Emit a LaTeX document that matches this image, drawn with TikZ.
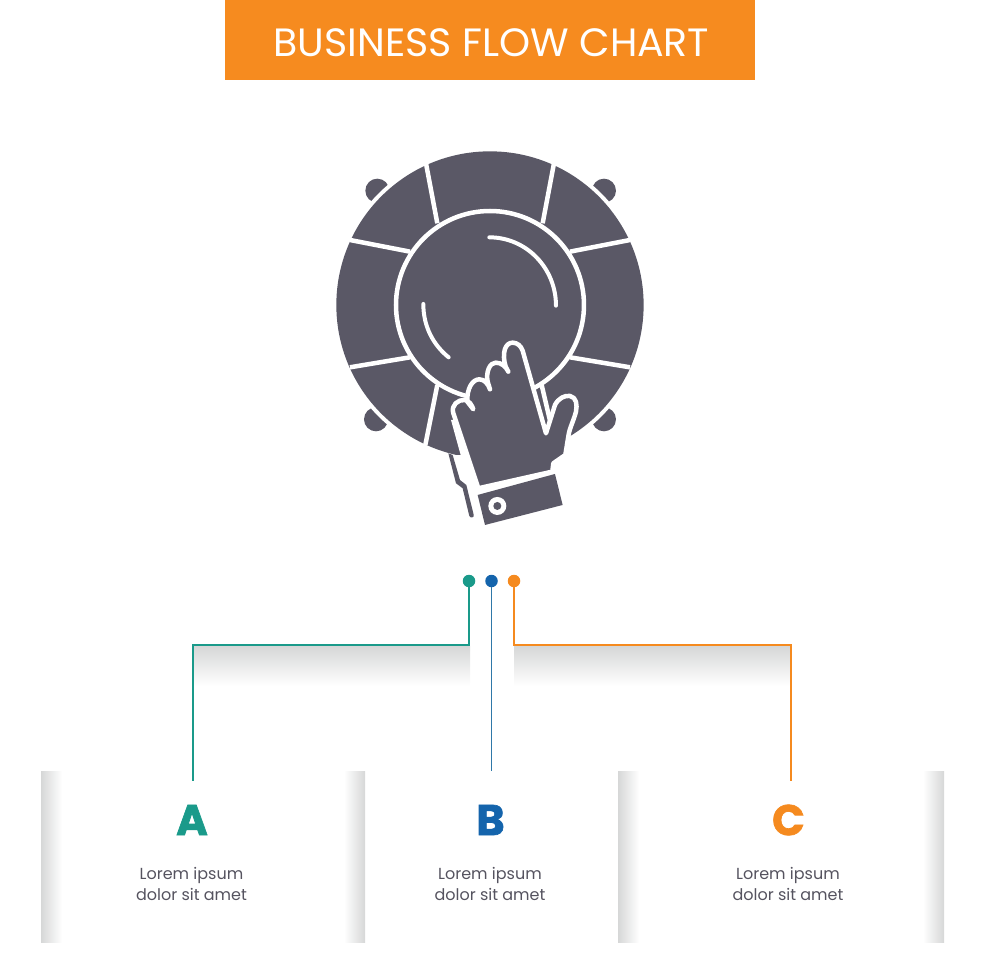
\documentclass[tikz,border=0pt]{standalone}
\usepackage{fontspec}
\setmainfont{Poppins}
\newfontfamily\heavyfont[FakeBold=1.6]{Poppins Bold}
\definecolor{bandorange}{HTML}{F68B1F}
\definecolor{iconslate}{HTML}{5A5866}
\definecolor{tealA}{HTML}{1A9A8A}
\definecolor{blueB}{HTML}{1464AC}
\definecolor{wireB}{HTML}{2F78A8}
\definecolor{orangeC}{HTML}{F58A1F}
\definecolor{bodygray}{HTML}{55535F}
\definecolor{shadegray}{HTML}{D6D7D7}
\begin{document}
\begin{tikzpicture}[x=1pt,y=-1pt,
    wire/.style={line width=1.7pt},
    pin/.style={circle,inner sep=0pt,minimum size=12.5pt},
    letter/.style={font=\fontsize{43}{43}\heavyfont},
    caption/.style={font=\fontsize{16}{20.5}\selectfont,text=bodygray,align=center},
    gap/.style={draw=white,line width=4.5pt},
    flare/.style={draw=white,line width=4pt,line cap=round,line join=round}]
    \useasboundingbox (0,0) rectangle (980,980);

    % title
    \fill[bandorange] (225,0) rectangle (755,80);
    \node[text=white,font=\fontsize{39.5}{42}\selectfont] (title) at (491.5,43) {BUSINESS FLOW CHART};

    % shadows
    \shade[top color=shadegray,bottom color=white] (193,646) rectangle (470,686);
    \shade[top color=shadegray,bottom color=white] (514,646) rectangle (791,686);
    \shade[left color=shadegray,right color=white] (41,771) rectangle (62,942);
    \shade[left color=white,right color=shadegray] (344,771) rectangle (365,942);
    \shade[left color=shadegray,right color=white] (618,771) rectangle (639,942);
    \shade[left color=white,right color=shadegray] (923,771) rectangle (944,942);

    % connectors
    \node[pin,fill=tealA] (pinA) at (469,581) {};
    \node[pin,fill=blueB] (pinB) at (491.5,581) {};
    \node[pin,fill=orangeC] (pinC) at (514,581) {};
    \coordinate (endA) at (193,781);
    \coordinate (endB) at (491.5,771);
    \coordinate (endC) at (791,781);
    \draw[wire,draw=tealA] (pinA) |- (endA |- 0,645) -- (endA);
    \draw[wire,draw=wireB] (pinB) -- (endB);
    \draw[wire,draw=orangeC] (pinC) |- (endC |- 0,645) -- (endC);

    % labels
    \node[letter,text=tealA] (letA) at (192,820) {A};
    \node[letter,text=blueB] (letB) at (490.5,820) {B};
    \node[letter,text=orangeC] (letC) at (788.5,820) {C};
    \node[caption] (capA) at (191.5,884) {Lorem ipsum\\dolor sit amet};
    \node[caption] (capB) at (490,884) {Lorem ipsum\\dolor sit amet};
    \node[caption] (capC) at (788,884) {Lorem ipsum\\dolor sit amet};

    % icon, in steps of a third of a unit
    \begin{scope}[shift={(320,140)},x=0.3333pt,y=-0.3333pt]
        \fill[iconslate] (172,152) circle (36);
        \fill[iconslate] (852,152) circle (36);
        \fill[iconslate] (168,838) circle (36);
        \fill[iconslate] (852,838) circle (36);
        \fill[white] (510,495) circle (473);
        \fill[iconslate] (510,495) circle (461);

        % spokes
        \draw[gap] (318,70) -- (352,250);
        \draw[gap] (702,70) -- (668,250);
        \draw[gap] (90,300) -- (270,335);
        \draw[gap] (930,300) -- (750,335);
        \draw[gap] (90,682) -- (270,652);
        \draw[gap] (930,682) -- (750,652);
        \draw[gap] (352,735) -- (316,915);
        \draw[gap] (665,735) -- (692,850);

        % disc
        \draw[gap] (510,495) circle (282);
        \draw[flare] (508,292) .. controls (620,292) and (708,385) .. (708,497);
        \draw[flare] (310,492) .. controls (310,560) and (340,615) .. (386,652);

        % sleeve
        \fill[white] (393,840) -- (422,945) -- (480,965) -- (425,840) -- cycle;
        \fill[white] (380,945) rectangle (560,970);
        \fill[iconslate] (385,940) -- (408,1030) -- (428,1045) -- (448,1128)
        .. controls (451,1136) and (464,1133) .. (461,1124)
        -- (439,1035) -- (420,1020) -- (398,945) -- cycle;

        % hand
        \draw[iconslate,fill=iconslate,draw=white,line width=4.5pt,line join=round]
        (475,1045) -- (400,820)
        .. controls (392,795) and (415,778) .. (435,780)
        .. controls (447,782) and (456,795) .. (460,808) -- (442,785)
        .. controls (440,745) and (458,718) .. (478,718)
        .. controls (493,718) and (505,732) .. (510,748) -- (503,725)
        .. controls (497,695) and (510,668) .. (527,668)
        .. controls (545,668) and (558,680) .. (565,695) -- (557,680)
        .. controls (545,640) and (555,608) .. (578,608)
        .. controls (592,608) and (603,618) .. (608,632)
        -- (678,880) -- (705,795)
        .. controls (715,775) and (735,765) .. (750,768)
        .. controls (770,772) and (772,795) .. (768,815)
        .. controls (762,840) and (748,865) .. (745,890)
        -- (736,945) -- (700,970) -- (697,995) -- cycle;

        % cuff
        \fill[iconslate] (473,1065) -- (705,1002) -- (728,1095) -- (495,1155) -- cycle;
        \fill[white] (532,1098) circle (27);
        \fill[iconslate] (532,1098) circle (12);
    \end{scope}
\end{tikzpicture}
\end{document}
